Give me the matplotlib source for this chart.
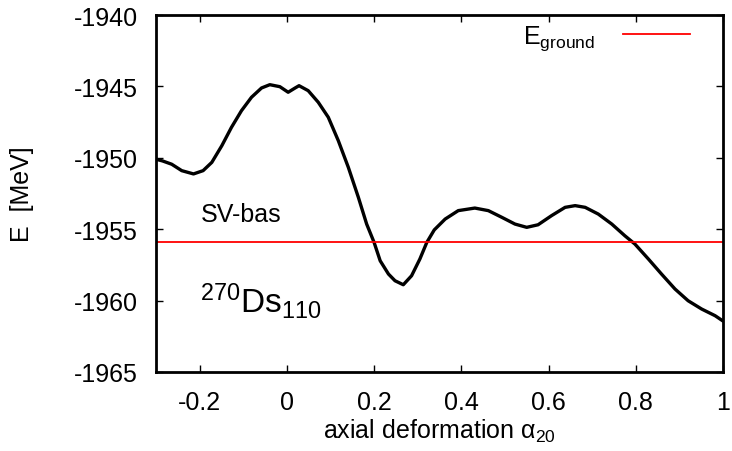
import numpy as np
import matplotlib.pyplot as plt

plt.rcParams['font.family'] = ['Liberation Sans', 'DejaVu Sans']
plt.rcParams['mathtext.fontset'] = 'custom'
plt.rcParams['mathtext.rm'] = 'Liberation Sans'
plt.rcParams['mathtext.it'] = 'Liberation Sans:italic'
plt.rcParams['axes.unicode_minus'] = False

# deformation energy curve, 270Ds with SV-bas
alpha20 = [-0.300, -0.285, -0.264, -0.241, -0.214, -0.192, -0.172, -0.149,
           -0.127, -0.104, -0.081, -0.058, -0.039, -0.016, 0.003, 0.019,
           0.028, 0.049, 0.072, 0.095, 0.118, 0.141, 0.164, 0.183,
           0.200, 0.214, 0.233, 0.248, 0.267, 0.286, 0.305, 0.321,
           0.338, 0.363, 0.393, 0.431, 0.462, 0.493, 0.523, 0.550,
           0.576, 0.607, 0.638, 0.661, 0.684, 0.714, 0.745, 0.775,
           0.798, 0.829, 0.859, 0.890, 0.920, 0.951, 0.982, 1.000]
energy = [-1950.10, -1950.22, -1950.45, -1950.90, -1951.13, -1950.90, -1950.32, -1949.15,
          -1947.87, -1946.70, -1945.76, -1945.11, -1944.88, -1945.02, -1945.41, -1945.11,
          -1944.95, -1945.30, -1946.11, -1947.16, -1948.80, -1950.67, -1952.77, -1954.64,
          -1955.92, -1957.21, -1958.14, -1958.61, -1958.89, -1958.26, -1957.09, -1955.92,
          -1955.05, -1954.29, -1953.70, -1953.52, -1953.70, -1954.17, -1954.64, -1954.87,
          -1954.69, -1954.05, -1953.47, -1953.35, -1953.47, -1953.94, -1954.64, -1955.46,
          -1956.04, -1957.09, -1958.14, -1959.19, -1960.01, -1960.59, -1961.06, -1961.43]
e_ground = -1955.87

xticks = [-0.2, 0, 0.2, 0.4, 0.6, 0.8, 1]
xticklabels = ['-0.2', '0', '0.2', '0.4', '0.6', '0.8', '1']
yticks = [-1965, -1960, -1955, -1950, -1945, -1940]

fig = plt.figure(figsize=(7.32, 4.52), dpi=100)
ax = fig.add_axes([0.2131, 0.1748, 0.7746, 0.7898])

ax.plot(alpha20, energy, color='black', linewidth=2.4,
        solid_joinstyle='round', solid_capstyle='round')
ax.axhline(e_ground, color='red', linewidth=1.3, label=r'$\mathrm{E}_{\mathrm{ground}}$')

ax.set_xlim(-0.3, 1.0)
ax.set_ylim(-1965, -1940)
ax.set_xticks(xticks)
ax.set_xticklabels(xticklabels)
ax.set_yticks(yticks)
ax.tick_params(direction='in', length=5, width=1, top=True, right=True,
               labelsize=18, pad=13)
for s in ax.spines.values():
    s.set_linewidth(2)

ax.set_xlabel(r'axial deformation $\mathrm{\alpha}_{20}$', fontsize=18, labelpad=2)
ax.set_ylabel('E  [MeV]', fontsize=18)
ax.yaxis.set_label_coords(-0.215, 0.5)

ax.text(-0.197, -1954.45, 'SV-bas', fontsize=18)
ax.text(-0.2, -1960.75, r'$^{270}\mathrm{Ds}_{110}$', fontsize=24)

ax.legend(loc='upper right', bbox_to_anchor=(0.9735, 1.025), frameon=False,
          markerfirst=False, fontsize=18, handlelength=2.7,
          borderaxespad=0.3, handletextpad=1.1)

plt.savefig('out.png', dpi=100)
